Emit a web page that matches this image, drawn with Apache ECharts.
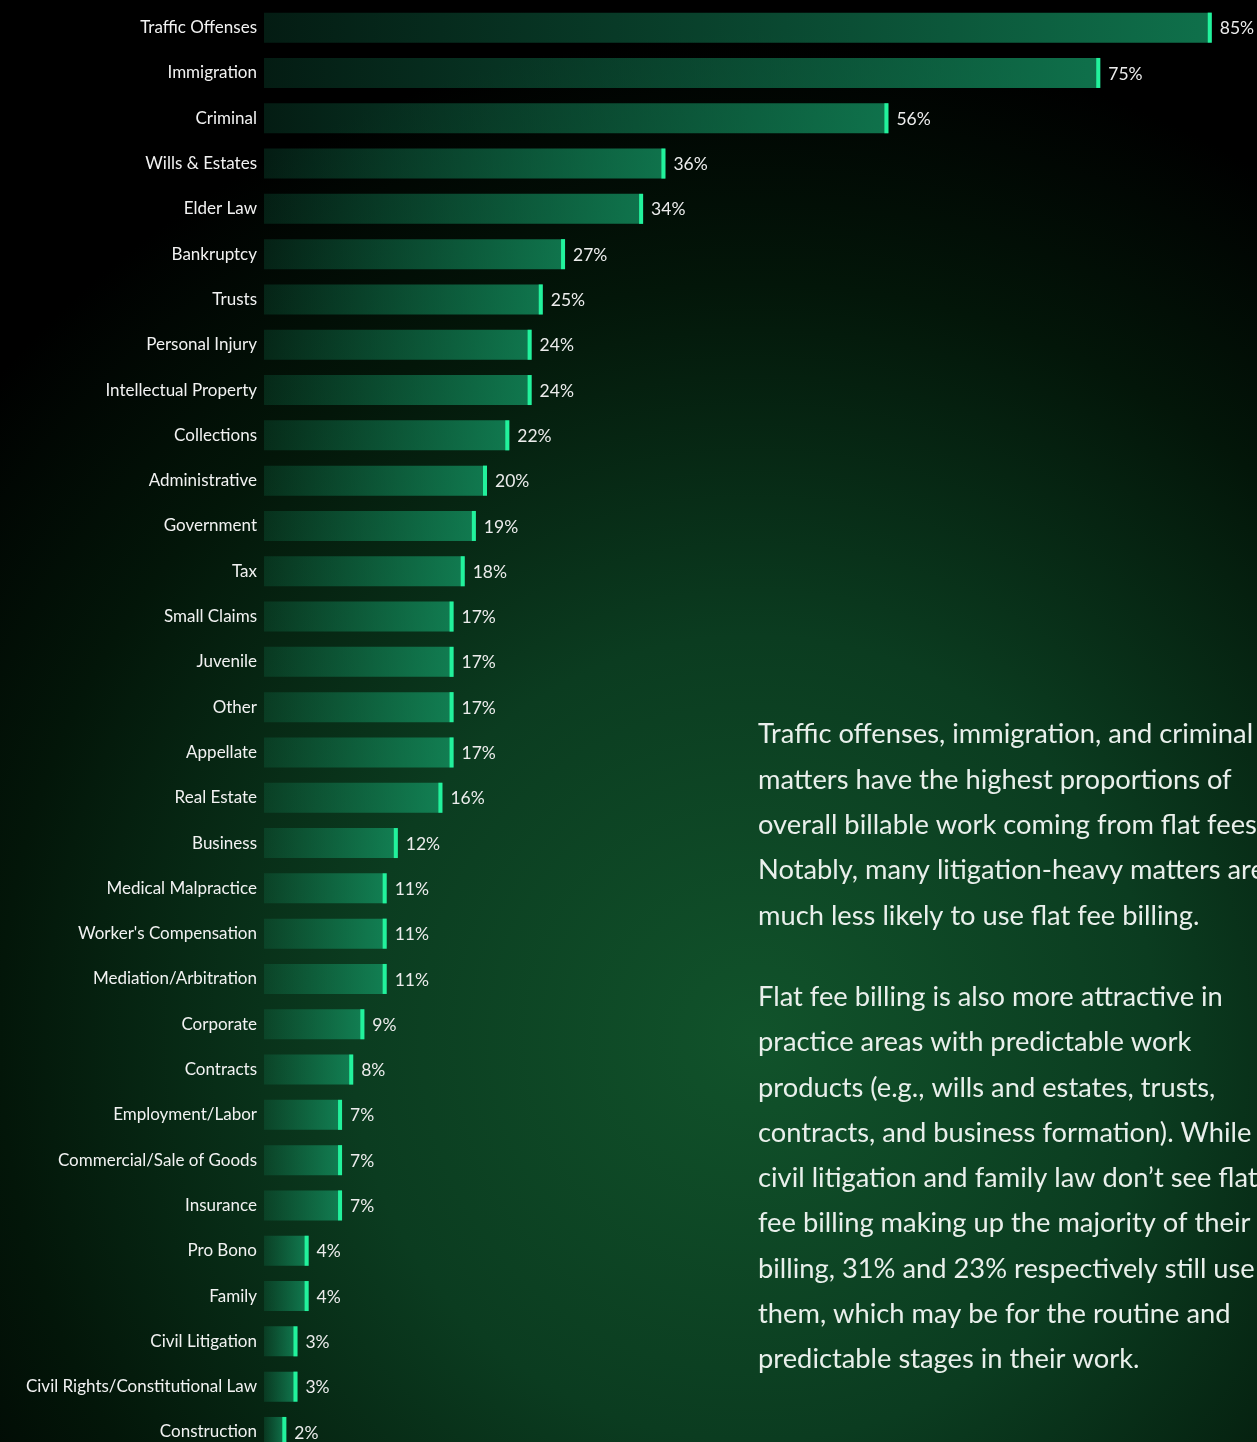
<!DOCTYPE html>
<html>
<head>
<meta charset="utf-8">
<title>Flat fee billing by practice area</title>
<script src="https://cdn.jsdelivr.net/npm/echarts@6/dist/echarts.min.js"></script>
<style>
  html, body { margin: 0; padding: 0; background: #000; overflow: hidden; }
  #chart { width: 1257px; height: 1442px; }
</style>
</head>
<body>
<div id="chart"></div>
<script>
// practice areas, top to bottom
var categories = ['Traffic Offenses', 'Immigration', 'Criminal', 'Wills & Estates', 'Elder Law', 'Bankruptcy',
  'Trusts', 'Personal Injury', 'Intellectual Property', 'Collections', 'Administrative', 'Government', 'Tax',
  'Small Claims', 'Juvenile', 'Other', 'Appellate', 'Real Estate', 'Business', 'Medical Malpractice',
  "Worker's Compensation", 'Mediation/Arbitration', 'Corporate', 'Contracts', 'Employment/Labor',
  'Commercial/Sale of Goods', 'Insurance', 'Pro Bono', 'Family', 'Civil Litigation',
  'Civil Rights/Constitutional Law', 'Construction'];
// share of billable work from flat fees (%)
var values = [85, 75, 56, 36, 34, 27, 25, 24, 24, 22, 20, 19, 18, 17, 17, 17, 17, 16, 12, 11, 11, 11, 9, 8, 7, 7, 7, 4, 4, 3, 3, 2];

var para1 = ['Traffic offenses, immigration, and criminal',
  'matters have the highest proportions of',
  'overall billable work coming from flat fees.',
  'Notably, many litigation-heavy matters are',
  'much less likely to use flat fee billing.'];
var para2 = ['Flat fee billing is also more attractive in',
  'practice areas with predictable work',
  'products (e.g., wills and estates, trusts,',
  'contracts, and business formation). While',
  'civil litigation and family law don\u2019t see flat',
  'fee billing making up the majority of their',
  'billing, 31% and 23% respectively still use',
  'them, which may be for the routine and',
  'predictable stages in their work.'];

var FONT = 'Lato, "Open Sans", sans-serif';

var myChart = echarts.init(document.getElementById('chart'));

var option = {
  backgroundColor: '#000',
  animation: false,
  graphic: [
    {//背景光晕
      type: 'rect', z: -10, silent: true,
      shape: { x: 0, y: 0, width: 1257, height: 1442 },
      style: {
        fill: {
          type: 'radial', x: 0.6, y: 0.72, r: 0.8,
          colorStops: [
            { offset: 0, color: '#11532b' },
            { offset: 0.4, color: '#0b3c20' },
            { offset: 0.75, color: '#031609' },
            { offset: 1, color: '#000' }
          ]
        }
      }
    },
    {
      type: 'text', left: 758, top: 712, z: 10, silent: true,
      style: { text: para1.join('\n'), fill: '#e9efeb', font: '27.3px ' + FONT, lineHeight: 45.3 }
    },
    {
      type: 'text', left: 758, top: 974.5, z: 10, silent: true,
      style: { text: para2.join('\n'), fill: '#e9efeb', font: '27.3px ' + FONT, lineHeight: 45.3 }
    }
  ],
  grid: { left: 264, top: 5, width: 1115, height: 32 * 45.3, containLabel: false, outerBoundsMode: 'none' },
  xAxis: {
    type: 'value', min: 0, max: 100, show: false
  },
  yAxis: {
    type: 'category', data: categories, inverse: true,
    axisLine: { show: false }, axisTick: { show: false }, splitLine: { show: false },
    axisLabel: { color: '#f2f2f2', fontSize: 17, fontFamily: FONT, margin: 7 }
  },
  series: [
    {
      type: 'bar', barWidth: 30, data: values,
      itemStyle: {
        color: {
          type: 'linear', x: 0, y: 0, x2: 1, y2: 0,
          colorStops: [
            { offset: 0, color: 'rgba(20,140,95,0.2)' },
            { offset: 1, color: 'rgba(20,150,100,0.75)' }
          ]
        }
      }
    },
    {//末端亮条 + 数值
      type: 'scatter', symbol: 'rect', symbolSize: [4, 30], symbolOffset: [-2, 0], z: 5,
      data: values.map(function (v, i) { return [v, i]; }),
      itemStyle: { color: '#22f29c', opacity: 1 },
      label: {
        show: true, position: 'right', distance: 8, offset: [0, 1],
        color: '#ececec', fontSize: 17.5, fontFamily: FONT,
        formatter: function (p) { return p.value[0] + '%'; }
      }
    }
  ]
};
myChart.setOption(option);
</script>
</body>
</html>
